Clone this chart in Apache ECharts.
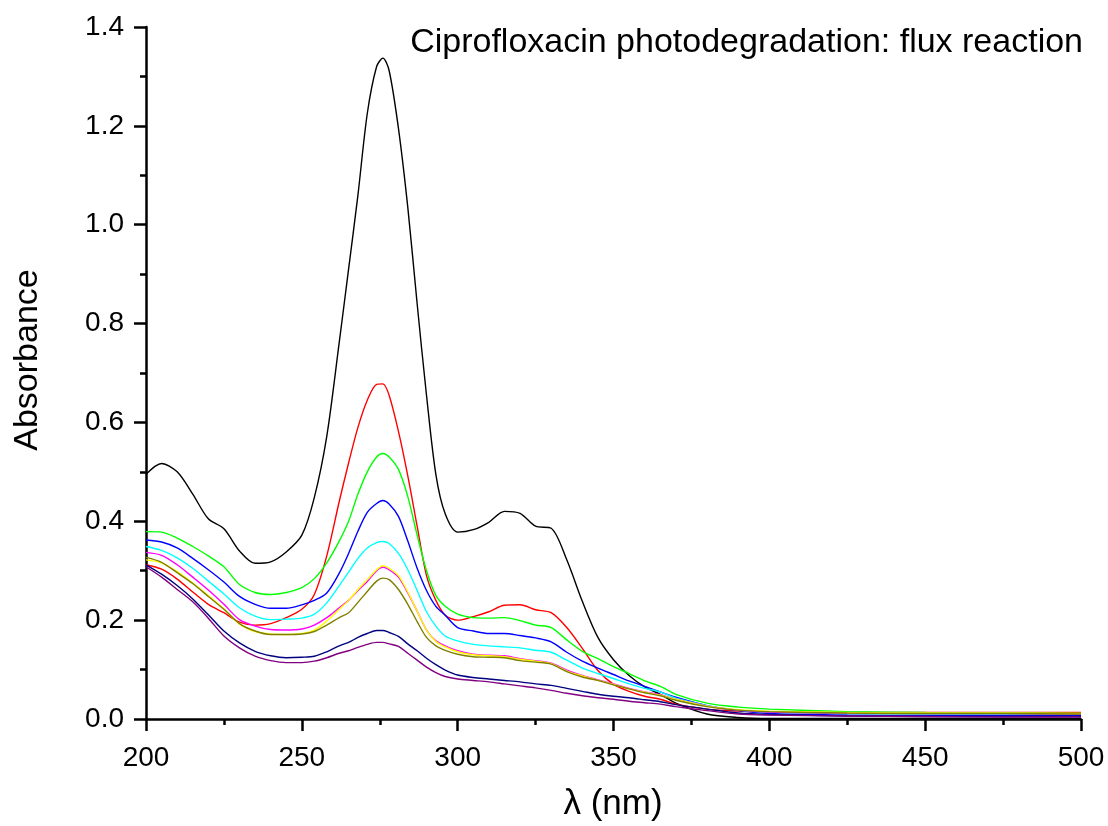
<!DOCTYPE html>
<html>
<head>
<meta charset="utf-8">
<script src="https://cdn.jsdelivr.net/npm/echarts@6/dist/echarts.min.js"></script>
<style>
  html, body { margin: 0; padding: 0; background: #ffffff; }
  #chart { width: 1108px; height: 826px; }
</style>
</head>
<body>
<div id="chart"></div>
<script>
// Wavelength grid (nm)
const wavelengths = [200,205,210,215,220,225,230,235,240,245,250,254,258,262,265,268,271,274,276,278,281,284,287,290,293,296,300,305,310,315,320,325,330,335,340,345,350,355,360,365,370,380,390,400,425,450,475,500];

// Absorbance values for each spectrum
const blackSeries  = [0.495,0.517,0.500,0.455,0.405,0.385,0.340,0.315,0.318,0.338,0.372,0.448,0.572,0.762,0.910,1.060,1.225,1.320,1.337,1.312,1.195,1.035,0.840,0.655,0.495,0.415,0.378,0.383,0.398,0.420,0.416,0.390,0.386,0.322,0.238,0.165,0.120,0.088,0.065,0.050,0.032,0.010,0.003,0.001,0.001,0.001,0.001,0.001];
const redSeries    = [0.312,0.303,0.283,0.257,0.232,0.215,0.196,0.190,0.193,0.205,0.222,0.252,0.330,0.440,0.518,0.590,0.645,0.677,0.678,0.655,0.582,0.492,0.390,0.290,0.240,0.210,0.200,0.207,0.217,0.230,0.231,0.221,0.215,0.185,0.143,0.098,0.070,0.056,0.046,0.040,0.030,0.020,0.016,0.014,0.013,0.013,0.013,0.013];
const greenSeries  = [0.379,0.378,0.366,0.349,0.330,0.308,0.272,0.256,0.252,0.256,0.266,0.284,0.316,0.360,0.400,0.455,0.500,0.530,0.537,0.530,0.505,0.450,0.372,0.300,0.250,0.228,0.212,0.205,0.204,0.205,0.199,0.190,0.185,0.160,0.137,0.122,0.106,0.092,0.077,0.066,0.050,0.032,0.024,0.020,0.015,0.013,0.012,0.011];
const blueSeries   = [0.362,0.358,0.346,0.325,0.302,0.277,0.248,0.232,0.224,0.224,0.231,0.240,0.255,0.295,0.335,0.380,0.418,0.436,0.442,0.435,0.410,0.360,0.305,0.260,0.228,0.210,0.185,0.178,0.173,0.173,0.169,0.164,0.156,0.135,0.117,0.103,0.090,0.077,0.066,0.055,0.044,0.027,0.017,0.011,0.008,0.007,0.007,0.007];
const cyanSeries   = [0.349,0.341,0.326,0.305,0.279,0.253,0.225,0.208,0.201,0.202,0.204,0.212,0.235,0.270,0.297,0.325,0.346,0.357,0.359,0.355,0.335,0.302,0.260,0.217,0.188,0.168,0.158,0.151,0.148,0.146,0.144,0.139,0.135,0.119,0.103,0.092,0.082,0.071,0.062,0.055,0.042,0.027,0.018,0.014,0.011,0.010,0.010,0.010];
const magentaSeries= [0.337,0.331,0.312,0.287,0.261,0.232,0.201,0.188,0.181,0.180,0.182,0.190,0.205,0.225,0.240,0.260,0.278,0.300,0.307,0.302,0.287,0.255,0.218,0.180,0.158,0.148,0.138,0.131,0.129,0.128,0.122,0.118,0.113,0.099,0.088,0.079,0.071,0.062,0.055,0.049,0.040,0.026,0.018,0.014,0.012,0.011,0.011,0.010];
const yellowSeries = [0.322,0.316,0.298,0.275,0.250,0.223,0.192,0.177,0.172,0.171,0.173,0.180,0.198,0.222,0.240,0.262,0.282,0.302,0.310,0.305,0.290,0.257,0.218,0.180,0.157,0.146,0.136,0.130,0.128,0.126,0.121,0.117,0.112,0.097,0.087,0.078,0.070,0.061,0.054,0.048,0.040,0.026,0.019,0.016,0.013,0.012,0.012,0.011];
const oliveSeries  = [0.327,0.317,0.296,0.274,0.248,0.222,0.193,0.178,0.171,0.171,0.172,0.177,0.190,0.205,0.215,0.236,0.258,0.279,0.285,0.282,0.262,0.232,0.197,0.165,0.148,0.139,0.131,0.126,0.125,0.124,0.118,0.115,0.111,0.096,0.085,0.078,0.069,0.061,0.053,0.047,0.038,0.025,0.018,0.015,0.012,0.011,0.011,0.010];
const navySeries   = [0.312,0.293,0.270,0.243,0.211,0.178,0.154,0.137,0.128,0.124,0.125,0.127,0.136,0.148,0.155,0.165,0.173,0.179,0.179,0.175,0.167,0.152,0.138,0.123,0.110,0.099,0.089,0.084,0.081,0.078,0.075,0.071,0.068,0.062,0.056,0.050,0.046,0.043,0.039,0.035,0.029,0.020,0.012,0.009,0.006,0.005,0.005,0.005];
const purpleSeries = [0.308,0.287,0.262,0.237,0.204,0.168,0.144,0.127,0.118,0.114,0.114,0.117,0.124,0.133,0.138,0.145,0.151,0.155,0.155,0.152,0.147,0.133,0.119,0.105,0.094,0.086,0.081,0.078,0.075,0.071,0.067,0.063,0.058,0.052,0.047,0.043,0.040,0.036,0.033,0.030,0.025,0.017,0.010,0.008,0.006,0.005,0.004,0.004];

const seriesNames  = ['black','red','green','blue','cyan','magenta','yellow','olive','navy','purple'];
const seriesColors = ['#000000','#ff0000','#00ff00','#0000ff','#00ffff','#ff00ff','#ffff00','#808000','#000080','#800080'];
const seriesData   = [blackSeries,redSeries,greenSeries,blueSeries,cyanSeries,magentaSeries,yellowSeries,oliveSeries,navySeries,purpleSeries];

const xTicks = [200,250,300,350,400,450,500];
const yTicks = [0.0,0.2,0.4,0.6,0.8,1.0,1.2,1.4];

const titleText = 'Ciprofloxacin photodegradation: flux reaction';
const xTitle = 'λ (nm)';
const yTitle = 'Absorbance';

const FONT = '"Liberation Sans", Arial, sans-serif';

const chart = echarts.init(document.getElementById('chart'), null, { renderer: 'canvas' });

const series = seriesData.map((vals, i) => ({
  name: seriesNames[i],
  type: 'line',
  data: wavelengths.map((w, j) => [w, vals[j]]),
  showSymbol: false,
  smooth: 0.3,
  lineStyle: { color: seriesColors[i], width: 1.4 },
  itemStyle: { color: seriesColors[i] },
  z: 2 + i,
  animation: false
}));

chart.setOption({
  backgroundColor: '#ffffff',
  animation: false,
  title: {
    text: titleText,
    right: 20,
    top: 21,
    textStyle: { fontFamily: FONT, fontSize: 34, fontWeight: 'normal', color: '#000' }
  },
  graphic: [
    {
      type: 'text',
      x: 28, y: 360,
      rotation: Math.PI / 2,
      style: { text: yTitle, font: '34px "Liberation Sans", Arial, sans-serif', fill: '#000', textAlign: 'center', textVerticalAlign: 'middle' }
    },
    {
      type: 'text',
      x: 613, y: 804,
      style: { text: xTitle, font: '35px "Liberation Sans", Arial, sans-serif', fill: '#000', textAlign: 'center', textVerticalAlign: 'middle' }
    }
  ],
  grid: { left: 146, right: 27, top: 27, bottom: 107, containLabel: false },
  xAxis: {
    type: 'value',
    min: xTicks[0],
    max: xTicks[xTicks.length - 1],
    interval: 50,
    axisLine: { show: true, onZero: false, lineStyle: { color: '#000', width: 2.5 } },
    axisTick: { show: true, inside: false, length: 12, lineStyle: { color: '#000', width: 2.5 } },
    minorTick: { show: true, splitNumber: 2, length: 6, lineStyle: { color: '#000', width: 2.5 } },
    splitLine: { show: false },
    axisLabel: { margin: 25, fontFamily: FONT, fontSize: 28, color: '#000' }
  },
  yAxis: {
    type: 'value',
    min: 0,
    max: yTicks[yTicks.length - 1],
    interval: 0.2,
    axisLine: { show: true, onZero: false, lineStyle: { color: '#000', width: 2.5 } },
    axisTick: { show: true, inside: false, length: 12, lineStyle: { color: '#000', width: 2.5 } },
    minorTick: { show: true, splitNumber: 2, length: 6, lineStyle: { color: '#000', width: 2.5 } },
    splitLine: { show: false },
    axisLabel: { margin: 22, fontFamily: FONT, fontSize: 28, color: '#000', formatter: v => v.toFixed(1) }
  },
  series: series
});
</script>
</body>
</html>
